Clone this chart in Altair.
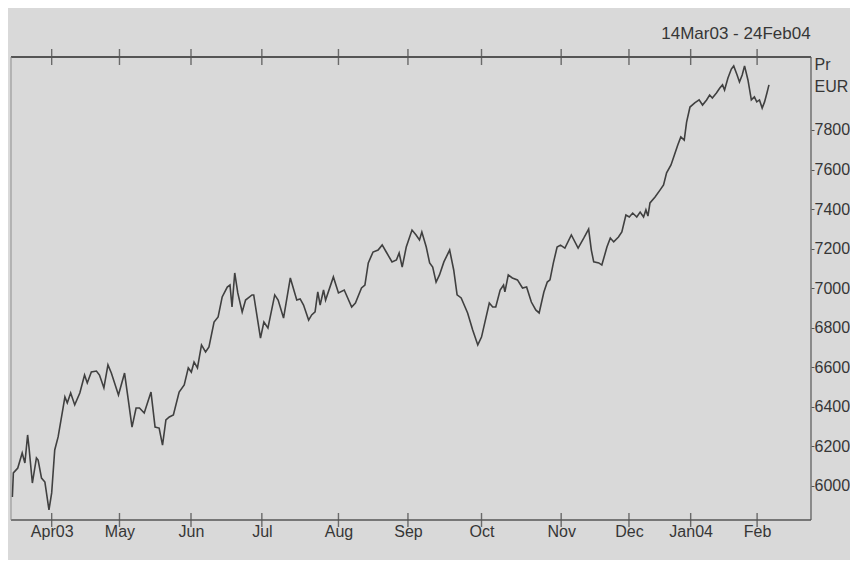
import altair as alt
import pandas as pd

# trading-day index since 14 Mar 2003 and price (EUR)
day = [0.4, 0.7, 2.0, 3.3, 4.1, 4.9, 5.3, 6.3, 7.5, 8.0, 9.0, 10.0, 11.2, 12.0,
       12.9, 13.9, 15.4, 15.9, 16.6, 17.6, 18.8, 20.3, 21.7, 22.5, 23.7, 25.2,
       26.1, 27.4, 28.6, 29.6, 31.7, 33.5, 34.6, 35.7, 36.9, 37.9, 39.3, 41.3,
       42.5, 43.7, 44.7, 45.7, 46.7, 47.9, 49.6, 51.1, 52.3, 53.2, 54.0, 55.0,
       56.2, 57.4, 58.4, 59.9, 61.1, 62.3, 63.8, 64.6, 65.2, 66.0, 66.9, 68.2,
       69.2, 71.1, 71.6, 73.6, 74.6, 75.8, 77.8, 78.8, 80.4, 82.4, 84.3, 85.3,
       86.3, 87.8, 88.7, 89.7, 90.5, 91.2, 92.2, 92.8, 95.1, 96.6, 98.3, 100.5,
       101.6, 103.4, 104.4, 105.4, 106.8, 108.3, 109.5, 110.7, 112.4, 113.7,
       114.5, 115.4, 116.6, 118.3, 119.5, 120.5, 121.2, 122.5, 123.5, 124.4,
       125.4, 126.4, 127.7, 129.4, 130.6, 131.6, 132.8, 134.7, 136.2, 137.7,
       138.8, 141.1, 142.1, 143.0, 144.3, 145.3, 145.7, 146.7, 147.9, 149.4,
       150.9, 152.1, 153.5, 154.8, 155.8, 157.2, 158.2, 159.0, 160.0, 161.1,
       162.1, 163.4, 165.3, 167.3, 169.0, 170.4, 171.2, 171.9, 173.4, 174.3,
       175.8, 176.8, 177.8, 179.2, 180.2, 181.4, 182.4, 183.4, 184.6, 185.6,
       186.6, 187.3, 187.9, 188.5, 190.0, 191.5, 192.5, 193.4, 194.7, 195.7,
       196.7, 197.6, 198.6, 199.3, 200.3, 201.7, 203.0, 204.0, 205.2, 206.1,
       206.9, 208.1, 209.1, 209.9, 210.5, 211.5, 212.5, 213.2, 214.2, 214.9,
       215.7, 216.4, 217.4, 218.4, 219.3, 220.0, 220.8, 221.6, 222.3, 223.0,
       223.6]
price = [5944, 6066, 6091, 6167, 6116, 6258, 6197, 6015, 6142, 6131, 6040, 6020,
         5879, 5965, 6182, 6248, 6399, 6450, 6420, 6470, 6410, 6470, 6561, 6521,
         6576, 6581, 6561, 6496, 6612, 6571, 6460, 6571, 6435, 6298, 6394, 6394,
         6369, 6475, 6298, 6293, 6207, 6334, 6349, 6359, 6475, 6511, 6597, 6576,
         6627, 6597, 6713, 6678, 6703, 6829, 6855, 6956, 7006, 7016, 6905, 7077,
         6976, 6880, 6940, 6966, 6966, 6748, 6829, 6799, 6966, 6940, 6849, 7052,
         6940, 6946, 6915, 6839, 6865, 6880, 6981, 6915, 6991, 6940, 7057, 6976,
         6991, 6905, 6925, 7001, 7016, 7128, 7183, 7193, 7219, 7183, 7133, 7143,
         7178, 7107, 7208, 7294, 7269, 7244, 7284, 7208, 7128, 7107, 7031, 7067,
         7133, 7193, 7092, 6966, 6951, 6875, 6789, 6713, 6753, 6925, 6905, 6905,
         6991, 7016, 6981, 7067, 7052, 7042, 7001, 7006, 6930, 6890, 6875, 6981,
         7031, 7042, 7128, 7208, 7218, 7203, 7269, 7203, 7254, 7299, 7193, 7133,
         7128, 7117, 7208, 7254, 7234, 7259, 7284, 7370, 7360, 7380, 7360, 7385,
         7360, 7396, 7365, 7431, 7461, 7497, 7522, 7583, 7623, 7674, 7724, 7765,
         7749, 7840, 7916, 7937, 7952, 7926, 7952, 7977, 7962, 7987, 8012, 8028,
         8002, 8063, 8108, 8124, 8078, 8043, 8078, 8124, 8053, 7952, 7967, 7942,
         7952, 7911, 7942, 7987, 8028]

month_ticks = [12, 32, 53.1, 74, 96.6, 117.1, 138.8, 162.3, 182.3, 200.5, 220.1]
month_labels = ["Apr03", "May", "Jun", "Jul", "Aug", "Sep", "Oct", "Nov", "Dec",
                "Jan04", "Feb"]
y_ticks = [6000, 6200, 6400, 6600, 6800, 7000, 7200, 7400, 7600, 7800]
period = "14Mar03 - 24Feb04"
unit = ["Pr", "EUR"]

df = pd.DataFrame({"day": day, "price": price})
ticks_df = pd.DataFrame({"mday": month_ticks})

W, H = 800, 463
FONT = "Liberation Sans"
TXT = "#363636"
FRAME = "#555555"
xscale = alt.Scale(domain=[0, 236], nice=False, zero=False)
yscale = alt.Scale(domain=[5828, 8169], nice=False, zero=False)

label_expr = ("[" + ",".join(f"'{m}'" for m in month_labels) + "][indexof(["
              + ",".join(str(t) for t in month_ticks) + "], datum.value)]")

line = alt.Chart(df).mark_line(color="#404040", strokeWidth=1.6).encode(
    x=alt.X("day:Q", scale=xscale,
            axis=alt.Axis(values=month_ticks, labelExpr=label_expr, grid=False,
                          ticks=False, tickSize=0, domain=False, labelPadding=3,
                          title=None, labelFontSize=16, labelColor=TXT,
                          labelFont=FONT, labelFlush=False)),
    y=alt.Y("price:Q", scale=yscale,
            axis=alt.Axis(orient="right", values=y_ticks, format="d", grid=False,
                          tickSize=3, tickColor=FRAME, domain=False,
                          labelPadding=0, labelFontSize=16, labelColor=TXT,
                          labelFont=FONT,
                          title=unit, titleAngle=0, titleAlign="left",
                          titleBaseline="top", titleX=3, titleY=-1,
                          titleFontWeight="normal", titleFontSize=16,
                          titleLineHeight=22, titleColor=TXT, titleFont=FONT)),
)

# plot frame: top, right, bottom and a faint left edge
frame_top = alt.Chart(pd.DataFrame({"edge": ["top"]})).mark_rule(
    color=FRAME, strokeWidth=2).encode(
    x=alt.value(0), x2=alt.value(W), y=alt.value(0))
frame_right = alt.Chart(pd.DataFrame({"edge": ["right"]})).mark_rule(
    color=FRAME, strokeWidth=1.2).encode(
    x=alt.value(W), y=alt.value(0), y2=alt.value(H))
frame_bottom = alt.Chart(pd.DataFrame({"edge": ["bottom"]})).mark_rule(
    color=FRAME, strokeWidth=1.5).encode(
    x=alt.value(0), x2=alt.value(W), y=alt.value(H))
frame_left = alt.Chart(pd.DataFrame({"edge": ["left"]})).mark_rule(
    color="#8a8a8a", strokeWidth=1).encode(
    x=alt.value(0), y=alt.value(0), y2=alt.value(H))

# month tick marks hanging from the top edge and standing on the bottom edge
top_ticks = alt.Chart(ticks_df).mark_tick(
    color="#3a3a3a", thickness=1.4, size=16, orient="vertical").encode(
    x=alt.X("mday:Q", scale=xscale), y=alt.value(0))
bot_ticks = alt.Chart(ticks_df).mark_tick(
    color="#3a3a3a", thickness=1.4, size=14, orient="vertical").encode(
    x=alt.X("mday:Q", scale=xscale), y=alt.value(H))

chart = alt.layer(line, top_ticks, bot_ticks, frame_top, frame_right,
                  frame_bottom, frame_left).properties(
    width=W, height=H,
    padding={"left": 3, "top": 49, "right": 39, "bottom": 40},
    autosize=alt.AutoSizeParams(type="none"),
    title=alt.TitleParams(period, anchor="end", offset=6, dx=-39,
                          fontSize=17, fontWeight="normal", color=TXT,
                          font=FONT),
).configure(background="#d9d9d9")

chart.save("out.html", embed_options={"renderer": "svg", "actions": False})
